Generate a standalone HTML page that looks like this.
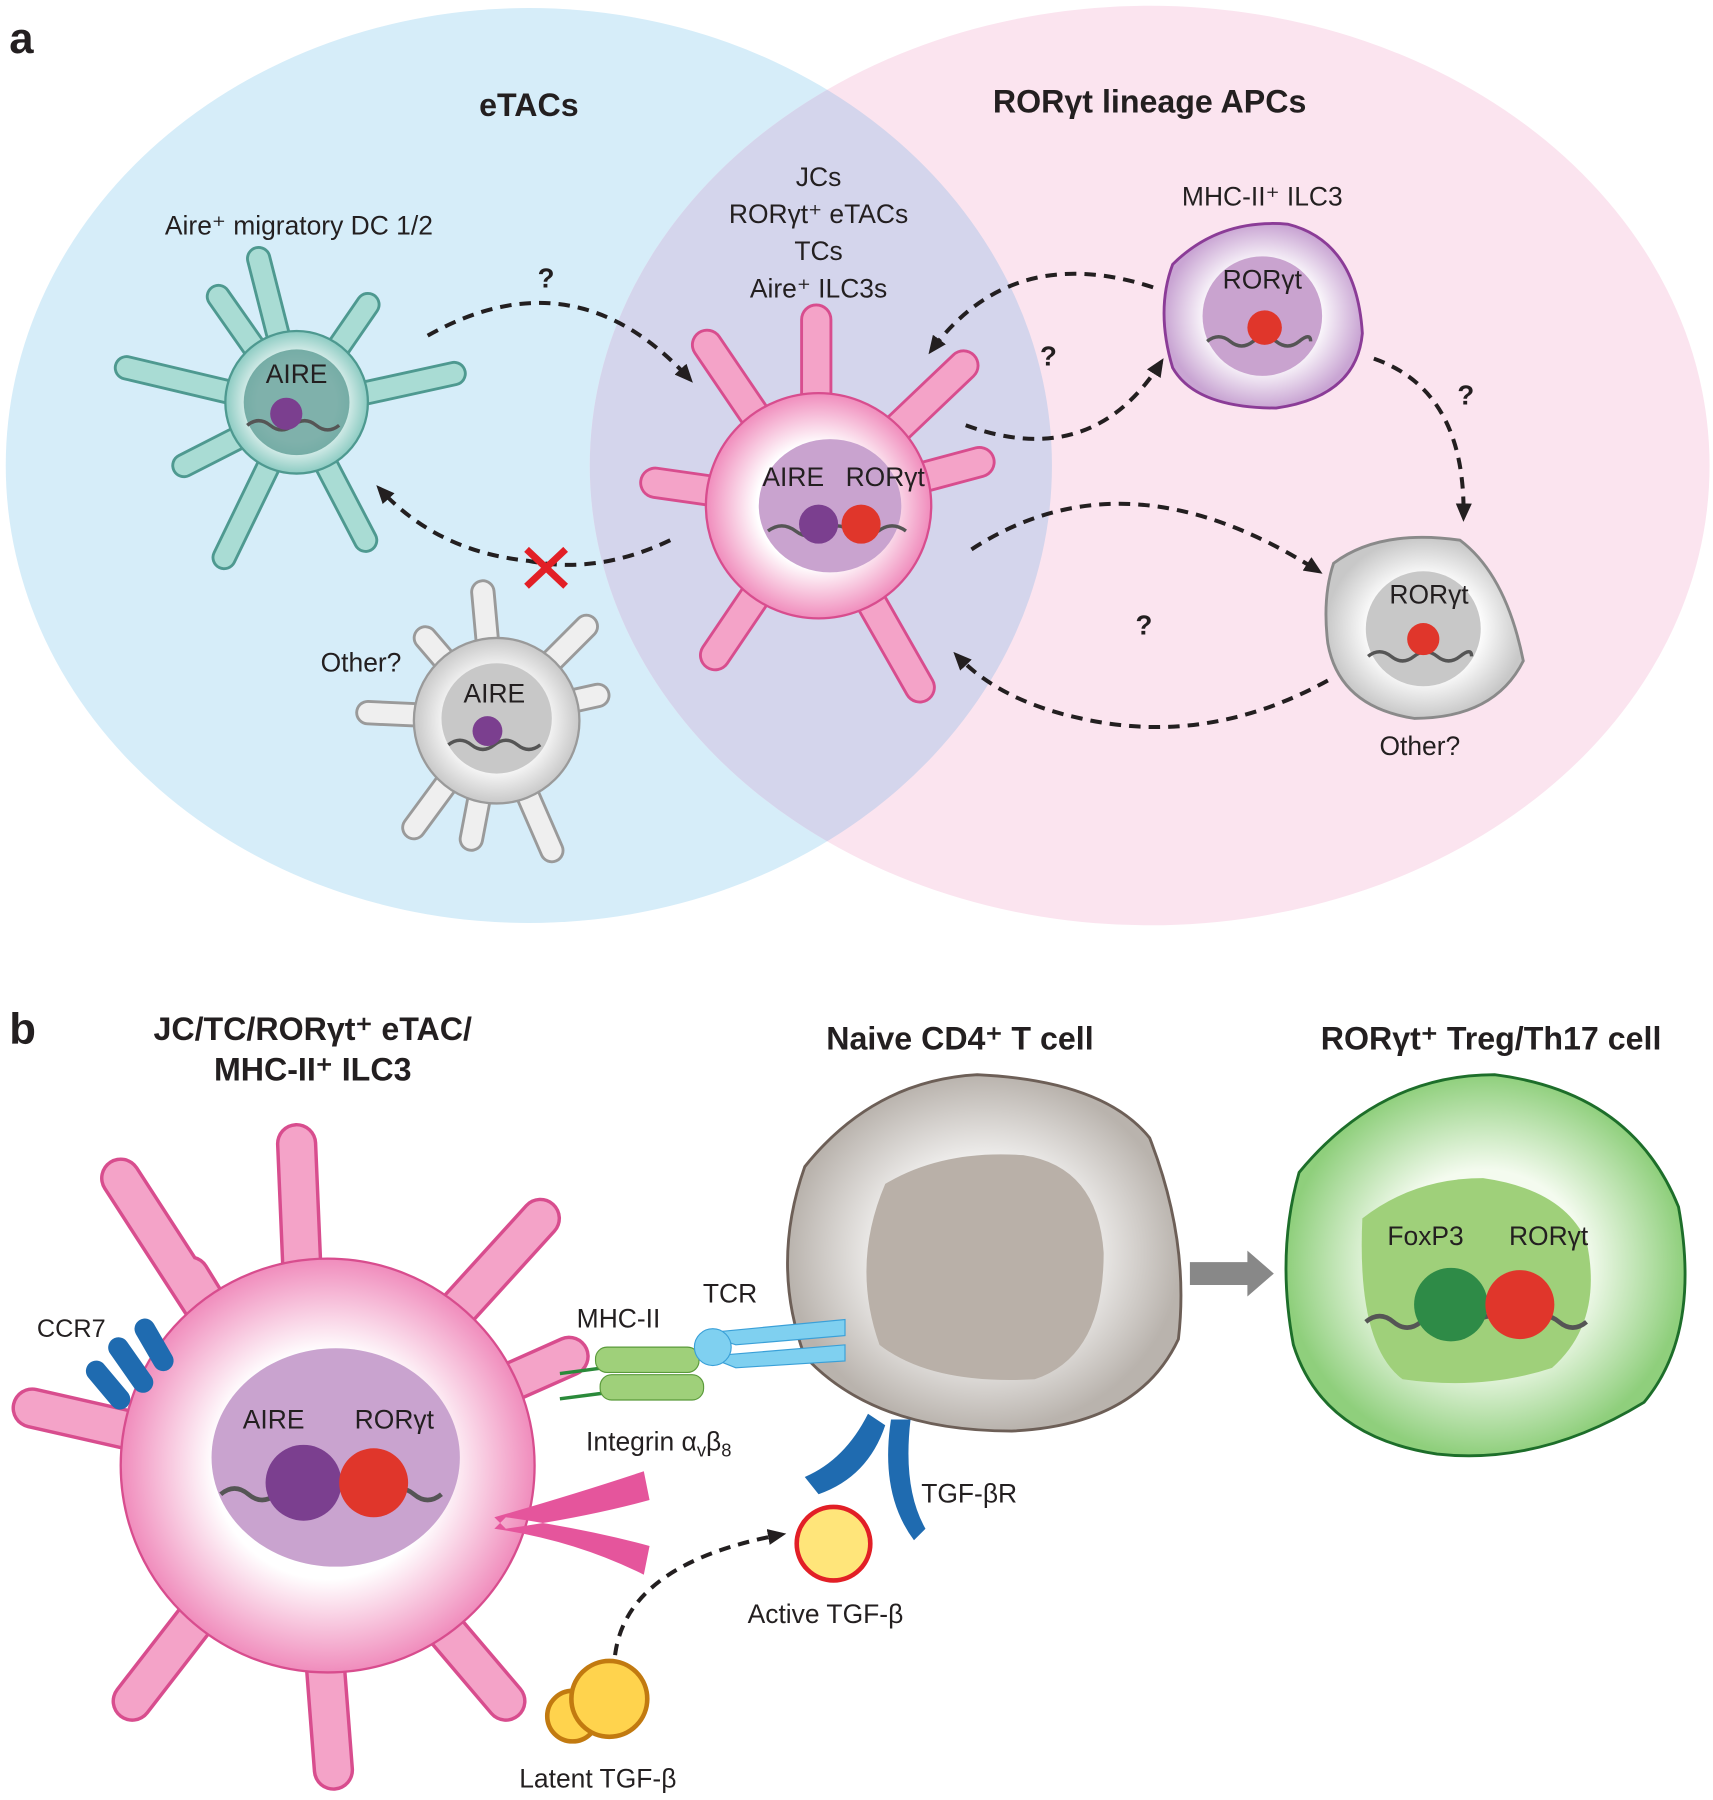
<!DOCTYPE html>
<html><head><meta charset="utf-8"><style>
html,body{margin:0;padding:0;background:#fff}
svg{display:block}
text{font-family:"Liberation Sans",sans-serif;fill:#231f20}
</style></head><body>
<svg width="1713" height="1800" viewBox="0 0 1490 1566" preserveAspectRatio="none" xmlns="http://www.w3.org/2000/svg">
<defs>
<clipPath id="cb"><ellipse cx="460" cy="405" rx="455" ry="398"/></clipPath>
<radialGradient id="gp"><stop offset="0.55" stop-color="#fff"/><stop offset="1" stop-color="#f08cbc"/></radialGradient>
<radialGradient id="gt"><stop offset="0.55" stop-color="#fff"/><stop offset="1" stop-color="#8ccbc2"/></radialGradient>
<radialGradient id="gg"><stop offset="0.55" stop-color="#fff"/><stop offset="1" stop-color="#c8c8c8"/></radialGradient>
<radialGradient id="gv"><stop offset="0.55" stop-color="#fff"/><stop offset="1" stop-color="#c9a5d3"/></radialGradient>
<radialGradient id="gn"><stop offset="0.4" stop-color="#fff"/><stop offset="1" stop-color="#b9b3ad"/></radialGradient>
<radialGradient id="ggr"><stop offset="0.5" stop-color="#f4fbef"/><stop offset="1" stop-color="#8fcf7c"/></radialGradient>
<marker id="ah" markerWidth="16" markerHeight="14" refX="12" refY="7" orient="auto" markerUnits="userSpaceOnUse"><path d="M0,0 L16,7 L0,14 z" fill="#231f20"/></marker>
</defs>
<ellipse cx="460" cy="405" rx="455" ry="398" fill="#d6edf9"/>
<ellipse cx="1000" cy="405" rx="487" ry="400" fill="#fbe4ef"/>
<ellipse cx="1000" cy="405" rx="487" ry="400" fill="#d4d5ec" clip-path="url(#cb)"/>
<text x="8" y="46" font-size="38" font-weight="bold">a</text>
<text x="460" y="101" font-size="28" font-weight="bold" text-anchor="middle">eTACs</text>
<text x="1000" y="98" font-size="28" font-weight="bold" text-anchor="middle">RORγt lineage APCs</text>
<text x="712" y="162" font-size="23" text-anchor="middle">JCs</text>
<text x="712" y="194" font-size="23" text-anchor="middle">RORγt⁺ eTACs</text>
<text x="712" y="226" font-size="23" text-anchor="middle">TCs</text>
<text x="712" y="259" font-size="23" text-anchor="middle">Aire⁺ ILC3s</text>
<text x="260" y="204" font-size="23" text-anchor="middle">Aire⁺ migratory DC 1/2</text>
<text x="1098" y="179" font-size="23" text-anchor="middle">MHC-II⁺ ILC3</text>

<!-- teal cell -->
<g stroke-linecap="round" fill="none">
<path d="M258,355 L110,320 M258,355 L190,258 M258,355 L225,225 M258,355 L320,265 M258,355 L395,325 M258,355 L160,405 M258,355 L195,485 M258,355 L318,470" stroke="#4e9990" stroke-width="22"/>
<path d="M258,355 L110,320 M258,355 L190,258 M258,355 L225,225 M258,355 L320,265 M258,355 L395,325 M258,355 L160,405 M258,355 L195,485 M258,355 L318,470" stroke="#a9dcd4" stroke-width="17"/>
</g>
<circle cx="258" cy="350" r="62" fill="url(#gt)" stroke="#4e9990" stroke-width="2"/>
<circle cx="258" cy="350" r="46" fill="#5f9e96" opacity="0.8"/>
<text x="258" y="333" font-size="23" text-anchor="middle">AIRE</text>
<path d="M215,370 q10,-8 20,0 t20,0 t20,0 t20,0" stroke="#555" stroke-width="3" fill="none"/>
<circle cx="249" cy="360" r="14" fill="#7b3f8f"/>

<!-- gray other cell -->
<g stroke-linecap="round" fill="none">
<path d="M430,625 L320,620 M430,625 L370,555 M430,625 L420,515 M430,625 L510,545 M430,625 L520,605 M430,625 L480,740 M430,625 L360,720 M430,625 L410,730" stroke="#9a9a9a" stroke-width="22"/>
<path d="M430,625 L320,620 M430,625 L370,555 M430,625 L420,515 M430,625 L510,545 M430,625 L520,605 M430,625 L480,740 M430,625 L360,720 M430,625 L410,730" stroke="#efefef" stroke-width="17"/>
</g>
<circle cx="432" cy="627" r="72" fill="url(#gg)" stroke="#9a9a9a" stroke-width="2"/>
<circle cx="432" cy="625" r="48" fill="#c8c8c8"/>
<text x="430" y="611" font-size="23" text-anchor="middle">AIRE</text>
<path d="M390,648 q10,-8 20,0 t20,0 t20,0 t20,0" stroke="#555" stroke-width="3" fill="none"/>
<circle cx="424" cy="636" r="13" fill="#7b3f8f"/>
<text x="314" y="584" font-size="23" text-anchor="middle">Other?</text>

<!-- pink central cell -->
<g stroke-linecap="round" fill="none">
<path d="M710,440 L615,300 M710,440 L710,278 M710,440 L838,318 M710,440 L852,402 M710,440 L570,420 M710,440 L622,570 M710,440 L800,598" stroke="#d84d8e" stroke-width="28"/>
<path d="M710,440 L615,300 M710,440 L710,278 M710,440 L838,318 M710,440 L852,402 M710,440 L570,420 M710,440 L622,570 M710,440 L800,598" stroke="#f4a3c8" stroke-width="23"/>
</g>
<circle cx="712" cy="440" r="98" fill="url(#gp)" stroke="#d84d8e" stroke-width="2"/>
<ellipse cx="722" cy="440" rx="62" ry="58" fill="#c9a3cf"/>
<text x="690" y="423" font-size="23" text-anchor="middle">AIRE</text>
<text x="770" y="423" font-size="23" text-anchor="middle">RORγt</text>
<path d="M668,462 q12,-9 24,0 t24,0 t24,0 t24,0 t24,0" stroke="#555" stroke-width="3" fill="none"/>
<circle cx="712" cy="456" r="17" fill="#7b3f8f"/>
<circle cx="749" cy="456" r="17" fill="#e0362b"/>

<!-- ILC3 -->
<path d="M1020,230 Q1060,190 1120,195 Q1180,210 1185,290 Q1180,345 1110,355 Q1040,355 1020,320 Q1005,270 1020,230z" fill="url(#gv)" stroke="#8b3c97" stroke-width="2.5"/>
<circle cx="1098" cy="275" r="52" fill="#c9a3cf"/>
<text x="1098" y="251" font-size="23" text-anchor="middle">RORγt</text>
<path d="M1050,297 q10,-8 20,0 t20,0 t20,0 t20,0 t10,0" stroke="#555" stroke-width="3" fill="none"/>
<circle cx="1100" cy="285" r="15" fill="#e0362b"/>

<!-- Other gray -->
<path d="M1160,490 Q1200,460 1270,470 Q1310,500 1325,575 Q1300,625 1230,625 Q1165,615 1155,560 Q1150,520 1160,490z" fill="url(#gg)" stroke="#8a8a8a" stroke-width="2.5"/>
<circle cx="1238" cy="547" r="50" fill="#c8c8c8"/>
<text x="1243" y="525" font-size="23" text-anchor="middle">RORγt</text>
<path d="M1190,571 q10,-8 20,0 t20,0 t20,0 t20,0 t10,0" stroke="#555" stroke-width="3" fill="none"/>
<circle cx="1238" cy="556" r="14" fill="#e0362b"/>
<text x="1235" y="657" font-size="23" text-anchor="middle">Other?</text>

<!-- arrows panel a -->
<g stroke="#231f20" stroke-width="3.5" stroke-dasharray="10,7" fill="none" marker-end="url(#ah)">
<path d="M372,292 Q500,220 600,330"/>
<path d="M583,470 Q520,500 460,488 Q380,480 330,425"/>
<path d="M1003,250 Q880,210 810,305"/>
<path d="M840,370 Q950,410 1010,315"/>
<path d="M1195,312 Q1275,340 1273,450"/>
<path d="M845,478 Q980,390 1147,497"/>
<path d="M1155,592 Q1050,650 940,625 Q870,610 832,570"/>
</g>
<text x="475" y="250" font-size="24" font-weight="bold" text-anchor="middle">?</text>
<text x="912" y="318" font-size="24" font-weight="bold" text-anchor="middle">?</text>
<text x="1275" y="352" font-size="24" font-weight="bold" text-anchor="middle">?</text>
<text x="995" y="552" font-size="24" font-weight="bold" text-anchor="middle">?</text>
<path d="M458,478 L492,510 M492,478 L458,510" stroke="#e21f26" stroke-width="6"/>

<!-- Panel b -->
<text x="8" y="908" font-size="38" font-weight="bold">b</text>
<text x="272" y="905" font-size="28" font-weight="bold" text-anchor="middle">JC/TC/RORγt⁺ eTAC/</text>
<text x="272" y="940" font-size="28" font-weight="bold" text-anchor="middle">MHC-II⁺ ILC3</text>
<text x="835" y="913" font-size="28" font-weight="bold" text-anchor="middle">Naive CD4⁺ T cell</text>
<text x="1297" y="913" font-size="28" font-weight="bold" text-anchor="middle">RORγt⁺ Treg/Th17 cell</text>

<g stroke-linecap="round" fill="none">
<path d="M270,1280 L105,1025 M270,1280 L258,995 M270,1280 L470,1060 M270,1280 L495,1180 M270,1280 L28,1225 M270,1280 L115,1480 M270,1280 L290,1540 M270,1280 L440,1480 M270,1280 L165,1110" stroke="#d84d8e" stroke-width="36"/>
<path d="M270,1280 L105,1025 M270,1280 L258,995 M270,1280 L470,1060 M270,1280 L495,1180 M270,1280 L28,1225 M270,1280 L115,1480 M270,1280 L290,1540 M270,1280 L440,1480 M270,1280 L165,1110" stroke="#f4a3c8" stroke-width="30"/>
</g>
<circle cx="285" cy="1275" r="180" fill="url(#gp)" stroke="#d84d8e" stroke-width="2"/>
<ellipse cx="292" cy="1268" rx="108" ry="95" fill="#c9a3cf"/>
<text x="238" y="1243" font-size="23" text-anchor="middle">AIRE</text>
<text x="343" y="1243" font-size="23" text-anchor="middle">RORγt</text>
<path d="M192,1300 q12,-10 24,0 t24,0 t24,0 t24,0 t24,0 t24,0 t24,0 t24,0" stroke="#555" stroke-width="4" fill="none"/>
<circle cx="264" cy="1290" r="33" fill="#7b3f8f"/>
<circle cx="325" cy="1290" r="30" fill="#e0362b"/>
<g fill="#1f6bb0"><rect x="85" y="1180" width="18" height="50" rx="9" transform="rotate(-40 94 1205)"/><rect x="105" y="1160" width="18" height="55" rx="9" transform="rotate(-35 114 1188)"/><rect x="125" y="1145" width="18" height="50" rx="9" transform="rotate(-30 134 1170)"/></g>
<text x="62" y="1163" font-size="22" text-anchor="middle">CCR7</text>
<path d="M430,1320 Q500,1300 560,1280 L565,1305 Q510,1320 440,1330z M430,1330 Q500,1340 560,1370 L565,1345 Q510,1330 440,1320z" fill="#e5559c"/>

<!-- MHC-II & TCR -->
<line x1="487" y1="1195" x2="525" y2="1190" stroke="#2a8a3a" stroke-width="3"/>
<line x1="487" y1="1217" x2="525" y2="1212" stroke="#2a8a3a" stroke-width="3"/>
<rect x="518" y="1172" width="90" height="22" rx="10" fill="#9fd07a" stroke="#5a9a3a"/>
<rect x="522" y="1196" width="90" height="22" rx="10" fill="#9fd07a" stroke="#5a9a3a"/>
<text x="538" y="1155" font-size="23" text-anchor="middle">MHC-II</text>
<text x="635" y="1133" font-size="23" text-anchor="middle">TCR</text>
<text x="573" y="1262" font-size="23" text-anchor="middle">Integrin α<tspan font-size="16" dy="5">v</tspan><tspan dy="-5">β</tspan><tspan font-size="16" dy="5">8</tspan></text>

<!-- naive T cell -->
<path d="M700,1015 Q760,940 850,935 Q960,940 1000,990 Q1035,1080 1025,1165 Q990,1240 880,1245 Q760,1245 700,1180 Q670,1100 700,1015z" fill="url(#gn)" stroke="#6d5f57" stroke-width="2.5"/>
<path d="M770,1030 Q820,1000 890,1005 Q955,1015 960,1090 Q960,1180 900,1200 Q810,1205 765,1170 Q740,1100 770,1030z" fill="#b9b0a8"/>
<path d="M610,1160 L735,1148 L735,1162 L640,1170z M615,1180 L735,1170 L735,1184 L640,1190z" fill="#7fd0f0" stroke="#3aa0d8"/>
<circle cx="620" cy="1172" r="16" fill="#7fd0f0" stroke="#3aa0d8"/>

<!-- TGF-bR -->
<path d="M700,1285 Q735,1270 755,1230 L770,1240 Q755,1285 712,1300z" fill="#1f6bb0"/>
<path d="M795,1340 Q765,1300 775,1235 L792,1235 Q785,1295 805,1330z" fill="#1f6bb0"/>
<text x="843" y="1307" font-size="23" text-anchor="middle">TGF-βR</text>
<circle cx="725" cy="1343" r="32" fill="#ffe57a" stroke="#e21f26" stroke-width="4"/>
<text x="718" y="1412" font-size="23" text-anchor="middle">Active TGF-β</text>
<path d="M535,1440 Q545,1360 680,1335" stroke="#231f20" stroke-width="3.5" stroke-dasharray="10,7" fill="none" marker-end="url(#ah)"/>
<circle cx="498" cy="1493" r="22" fill="#ffd34d" stroke="#c27a10" stroke-width="4"/>
<circle cx="530" cy="1478" r="33" fill="#ffd34d" stroke="#c27a10" stroke-width="4"/>
<text x="520" y="1555" font-size="23" text-anchor="middle">Latent TGF-β</text>

<!-- gray arrow -->
<path d="M1035,1098 L1085,1098 L1085,1088 L1108,1108 L1085,1128 L1085,1118 L1035,1118z" fill="#888"/>

<!-- green cell -->
<path d="M1130,1020 Q1200,935 1300,935 Q1420,950 1460,1050 Q1480,1160 1430,1220 Q1340,1275 1250,1265 Q1150,1250 1125,1170 Q1110,1090 1130,1020z" fill="url(#ggr)" stroke="#1d6e2a" stroke-width="2.5"/>
<path d="M1185,1060 Q1230,1025 1290,1025 Q1360,1035 1380,1080 Q1395,1150 1350,1190 Q1290,1210 1220,1200 Q1180,1170 1185,1060z" fill="#9fd07a"/>
<text x="1240" y="1083" font-size="23" text-anchor="middle">FoxP3</text>
<text x="1347" y="1083" font-size="23" text-anchor="middle">RORγt</text>
<path d="M1188,1150 q12,-10 24,0 t24,0 t24,0 t24,0 t24,0 t24,0 t24,0 t24,0" stroke="#555" stroke-width="4" fill="none"/>
<circle cx="1262" cy="1135" r="32" fill="#2e8b47"/>
<circle cx="1322" cy="1135" r="30" fill="#e0362b"/>
</svg>
</body></html>
